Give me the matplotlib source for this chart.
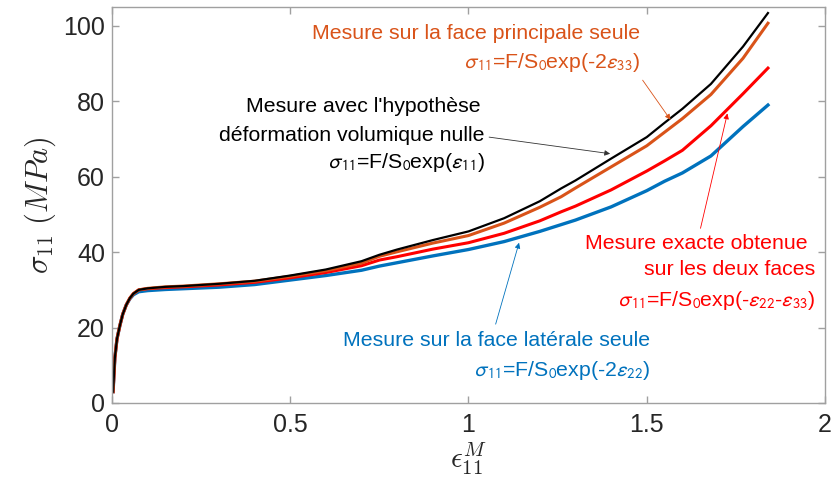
import matplotlib
matplotlib.use('Agg')
import matplotlib.pyplot as plt

plt.rcParams['font.family'] = ['Liberation Sans', 'DejaVu Sans']

# deformation axiale (eps11^M)
x = [0.003, 0.008, 0.014, 0.022, 0.03, 0.04, 0.05, 0.06, 0.075, 0.1, 0.15, 0.2, 0.3, 0.4,
     0.5, 0.6, 0.7, 0.75, 0.8, 0.9, 1.0, 1.1, 1.2, 1.26, 1.3, 1.4, 1.5, 1.55, 1.6, 1.68,
     1.77, 1.84]

# contraintes (MPa) pour les 4 methodes
s_noire = [3, 12, 17, 20.5, 23.5, 26, 27.8, 29, 30, 30.4, 30.8, 31, 31.6, 32.4,
           33.8, 35.4, 37.6, 39.3, 40.7, 43.2, 45.5, 49, 53.5, 56.9, 59, 64.8, 70.5, 74.3, 78, 84.6,
           94.5, 103.4]
s_orange = [3, 12, 17, 20.5, 23.5, 26, 27.8, 29, 30, 30.4, 30.8, 31, 31.6, 32.3,
            33.6, 35.1, 37.1, 38.9, 40.1, 42.4, 44.4, 47.7, 51.9, 54.7, 57, 62.6, 68.2, 71.8, 75.4, 81.8,
            91.4, 100.7]
s_rouge = [3, 12, 17, 20.5, 23.5, 26, 27.8, 29, 30, 30.3, 30.6, 30.8, 31.3, 32,
           33.2, 34.6, 36.4, 37.9, 38.8, 40.8, 42.5, 45, 48.3, 50.7, 52.2, 56.5, 61.5, 64.2, 67, 73.5,
           82, 88.8]
s_bleue = [3, 12, 17, 20.5, 23.5, 26, 27.6, 28.7, 29.5, 29.8, 30.1, 30.3, 30.7, 31.4,
           32.6, 33.8, 35.2, 36.3, 37.2, 39, 40.7, 42.8, 45.5, 47.3, 48.5, 52, 56.3, 58.8, 61, 65.5,
           73.3, 79]

c_noir = 'black'
c_orange = '#D95319'
c_rouge = '#FF0000'
c_bleu = '#0072BD'

fig = plt.figure(figsize=(8.37, 4.79), dpi=100)
ax = fig.add_axes([112/837, 76/479, 713/837, 396/479])

ax.plot(x, s_bleue, color=c_bleu, lw=2.4)
ax.plot(x, s_rouge, color=c_rouge, lw=2.2)
ax.plot(x, s_orange, color=c_orange, lw=2.2)
ax.plot(x, s_noire, color=c_noir, lw=1.6)

ax.set_xlim(0, 2)
ax.set_ylim(0, 105)
ax.set_xticks([0, 0.5, 1, 1.5, 2])
ax.set_xticklabels(['0', '0.5', '1', '1.5', '2'])
ax.set_yticks([0, 20, 40, 60, 80, 100])

for sp in ax.spines.values():
    sp.set_color('#a0a0a0')
    sp.set_linewidth(1.0)
ax.tick_params(direction='in', length=5, width=1.0, color='#a0a0a0', labelcolor='#262626',
               labelsize=18, top=True, right=True)
ax.tick_params(axis='x', pad=7)
ax.tick_params(axis='y', pad=5)

ax.set_xlabel(r'$\epsilon_{11}^M$', fontsize=21, math_fontfamily='cm', labelpad=3, color='#262626')
ax.set_ylabel(r'$\sigma_{11}\ (MPa)$', fontsize=22, math_fontfamily='cm', labelpad=4, color='#262626')

fs = 15.3
fl = 'stixsans'
# annotation orange
ax.text(1.481, 98.1, 'Mesure sur la face principale seule', color=c_orange, fontsize=fs, ha='right', va='center')
ax.text(1.481, 90.2, r'$\sigma_{11}$=F/S$_0$exp(-2$\varepsilon_{33}$)', color=c_orange, fontsize=fs,
        ha='right', va='center', math_fontfamily=fl)
ax.annotate('', xy=(1.571, 74.5), xytext=(1.484, 86.2),
            arrowprops=dict(arrowstyle='-|>', color=c_orange, lw=0.6, mutation_scale=8))

# annotation noire
ax.text(1.035, 78.5, "Mesure avec l'hypothèse", color=c_noir, fontsize=fs, ha='right', va='center')
ax.text(1.044, 70.8, 'déformation volumique nulle', color=c_noir, fontsize=fs, ha='right', va='center')
ax.text(1.046, 63.7, r'$\sigma_{11}$=F/S$_0$exp($\varepsilon_{11}$)', color=c_noir, fontsize=fs,
        ha='right', va='center', math_fontfamily=fl)
ax.annotate('', xy=(1.405, 66.0), xytext=(1.05, 70.6),
            arrowprops=dict(arrowstyle='-|>', color='#333333', lw=0.6, mutation_scale=8))

# annotation rouge
ax.text(1.952, 42.4, 'Mesure exacte obtenue', color=c_rouge, fontsize=fs, ha='right', va='center')
ax.text(1.972, 35.3, 'sur les deux faces', color=c_rouge, fontsize=fs, ha='right', va='center')
ax.text(1.972, 27.1, r'$\sigma_{11}$=F/S$_0$exp(-$\varepsilon_{22}$-$\varepsilon_{33}$)', color=c_rouge,
        fontsize=fs, ha='right', va='center', math_fontfamily=fl)
ax.annotate('', xy=(1.728, 77.5), xytext=(1.649, 45.6),
            arrowprops=dict(arrowstyle='-|>', color=c_rouge, lw=0.6, mutation_scale=8))

# annotation bleue
ax.text(1.509, 16.7, 'Mesure sur la face latérale seule', color=c_bleu, fontsize=fs, ha='right', va='center')
ax.text(1.509, 8.6, r'$\sigma_{11}$=F/S$_0$exp(-2$\varepsilon_{22}$)', color=c_bleu, fontsize=fs,
        ha='right', va='center', math_fontfamily=fl)
ax.annotate('', xy=(1.144, 43.2), xytext=(1.074, 20.2),
            arrowprops=dict(arrowstyle='-|>', color=c_bleu, lw=0.6, mutation_scale=8))

fig.savefig('out.png', dpi=100)
